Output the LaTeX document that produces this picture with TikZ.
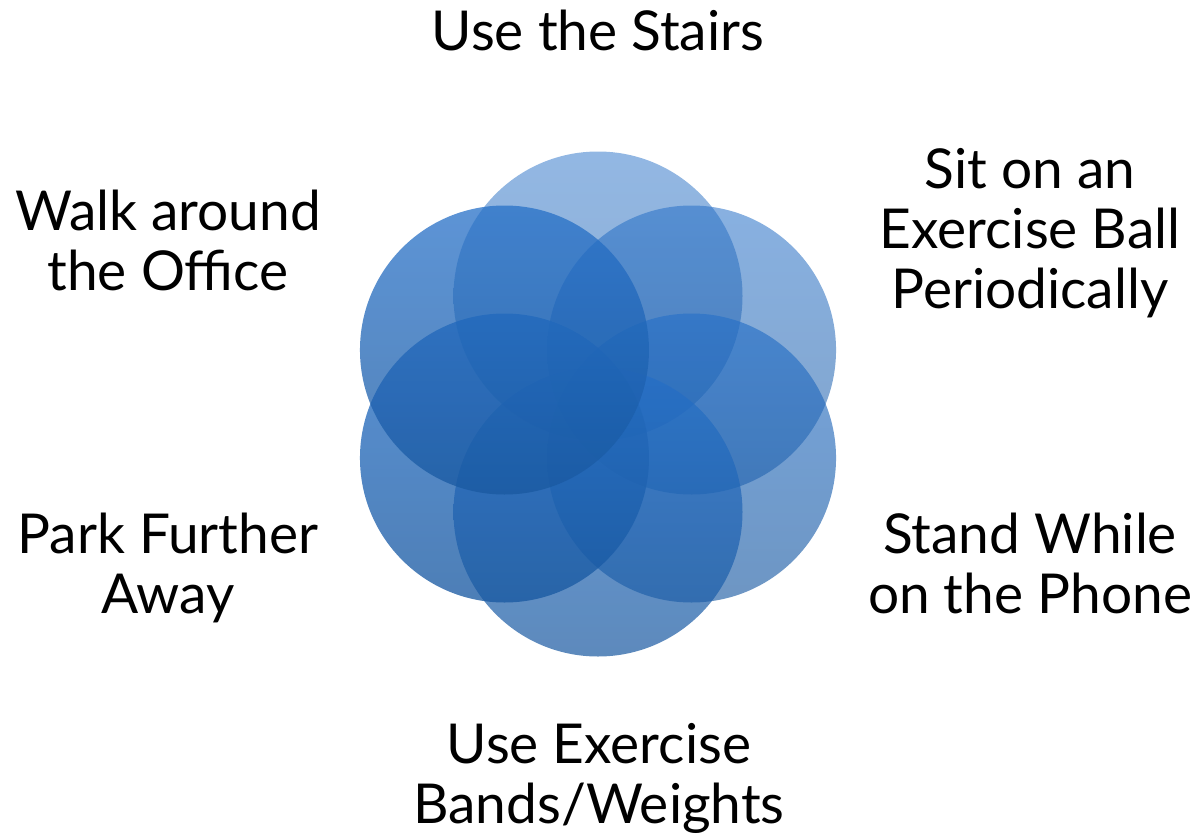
\documentclass[tikz,border=0pt]{standalone}
\usepackage{fontspec}
\setmainfont{Lato}
\usetikzlibrary{positioning,calc}
\definecolor{petaltop}{RGB}{38,112,200}
\definecolor{petalbot}{RGB}{24,88,160}
\tikzset{
  petal/.style={top color=petaltop,bottom color=petalbot,draw=none},
  habit/.style={align=center,font=\fontsize{27.5}{30}\selectfont,inner sep=0pt,anchor=base}
}

\begin{document}
\begin{tikzpicture}[x=0.5pt,y=-0.5pt]
  \useasboundingbox (0,0) rectangle (1194,835);
  \coordinate (hub) at (598,404);

  % six petals, clockwise from the top
  \foreach \nm/\ang/\op in {stairs/-90/0.5,ball/-30/0.55,phone/30/0.63,bands/90/0.7,park/150/0.77,walk/210/0.75}{
    \coordinate (\nm) at ($(hub)+(\ang:108)$);
    \shade[petal,fill opacity=\op] (\nm) circle (144.5);
  }

  % labels, placed at the baseline of their last line
  \node (stairslbl) [habit] at (598,50) {Use the Stairs};
  \node (walklbl) [habit] at (168,290) {Walk around\\the Office};
  \node (balllbl) [habit] at (1030,308) {Sit on an\\Exercise Ball\\Periodically};
  \node (parklbl) [habit] at (168,613) {Park Further\\Away};
  \node (phonelbl) [habit] at (1030,613) {Stand While\\on the Phone};
  \node (bandslbl) [habit] at (599,823) {Use Exercise\\Bands/Weights};
\end{tikzpicture}
\end{document}
